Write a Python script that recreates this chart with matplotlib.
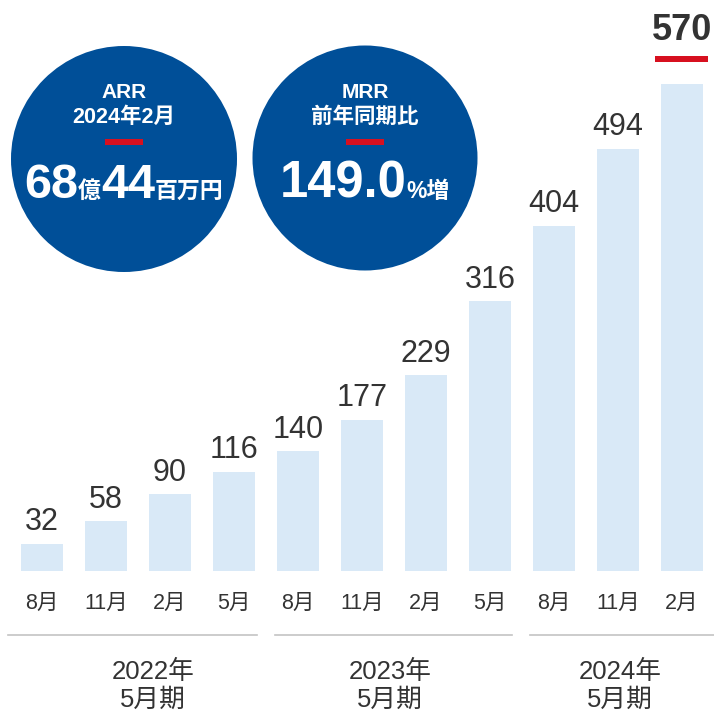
import matplotlib
matplotlib.use("Agg")
import matplotlib.pyplot as plt
from matplotlib.patches import Circle, Rectangle
from matplotlib.lines import Line2D

# ---- data ----
months = ["8月", "11月", "2月", "5月", "8月", "11月", "2月", "5月", "8月", "11月", "2月"]
values = [32, 58, 90, 116, 140, 177, 229, 316, 404, 494, 570]
groups = ["2022年\n5月期", "2023年\n5月期", "2024年\n5月期"]
arr_lines = ["ARR", "2024年2月"]
arr_value = [("68", "big"), ("億", "small"), ("44", "big"), ("百万円", "small")]
mrr_lines = ["MRR", "前年同期比"]
mrr_value = [("149.0", "big"), ("%増", "small")]

FAM = ["Liberation Sans", "Noto Sans CJK JP", "DejaVu Sans"]
TXT = "#333333"
BAR = "#d9e9f7"
NAVY = "#004f98"
RED = "#d7101f"

W, H = 714, 712
fig = plt.figure(figsize=(W / 100, H / 100), dpi=100)
fig.patch.set_facecolor("white")

# data axes
ax = fig.add_axes([0, 0, 1, 1])
ax.set_xlim(-42 / 64, -42 / 64 + W / 64)
pxu = 487 / 570
ax.set_ylim(-141 / pxu, 571 / pxu)
ax.axis("off")

x = list(range(len(values)))
ax.bar(x, values, width=42 / 64, color=BAR, zorder=1)

for i, v in enumerate(values):
    if i == len(values) - 1:
        ax.annotate(str(v), (i, v), xytext=(0, 44), textcoords="offset pixels",
                    ha="center", va="baseline", fontsize=26, fontweight="bold",
                    color=TXT, family=FAM)
    else:
        t = ax.annotate(str(v), (i, v), xytext=(0, 13.5), textcoords="offset pixels",
                        ha="center", va="baseline", fontsize=22, color=TXT, family=FAM)
        t.set_fontstretch("expanded")
    ax.annotate(months[i], (i, 0), xytext=(0, -32), textcoords="offset pixels",
                ha="center", va="center", fontsize=15.5, color=TXT, family=FAM)

# overlay pixel axes
ov = fig.add_axes([0, 0, 1, 1])
ov.set_xlim(0, W)
ov.set_ylim(H, 0)
ov.axis("off")
ov.patch.set_alpha(0)

# red underline under last value
ov.add_patch(Rectangle((655, 55.5), 53, 6, color=RED, lw=0))

# group separator lines
for (x0, x1) in [(8, 257), (275, 512), (530, 714)]:
    ov.add_line(Line2D([x0, x1], [635, 635], color="#c4c4c4", lw=1.2))

group_x = [153, 390, 620]
for gx, g in zip(group_x, groups):
    l1, l2 = g.split("\n")
    ov.text(gx, 672, l1, ha="center", va="center", fontsize=18.5, color=TXT, family=FAM)
    ov.text(gx, 700, l2, ha="center", va="center", fontsize=18.5, color=TXT, family=FAM)

# circles
circles = [(124, 159, 113, arr_lines, arr_value, 35), (365, 158, 112.5, mrr_lines, mrr_value, 36.5)]
fig.canvas.draw()
renderer = fig.canvas.get_renderer()
for cx, cy, r, lines, parts, bigfs in circles:
    ov.add_patch(Circle((cx, cy), r, color=NAVY, lw=0))
    ov.text(cx, 93, lines[0], ha="center", va="center", fontsize=15, fontweight="bold",
            color="white", family=FAM)
    ov.text(cx, 117, lines[1], ha="center", va="center", fontsize=15.5, fontweight="bold",
            color="white", family=FAM)
    ov.add_patch(Rectangle((cx - 19, 139), 38, 6, color=RED, lw=0))
    texts = []
    for s, kind in parts:
        fs = bigfs if kind == "big" else 16.5
        t = ov.text(0, 198, s, ha="left", va="baseline", fontsize=fs, fontweight="bold",
                    color="white", family=FAM)
        texts.append(t)
    widths = [t.get_window_extent(renderer).width for t in texts]
    total = sum(widths)
    xpos = cx - total / 2
    for t, w in zip(texts, widths):
        t.set_x(xpos)
        xpos += w

fig.savefig("out.png", dpi=100, facecolor="white")
